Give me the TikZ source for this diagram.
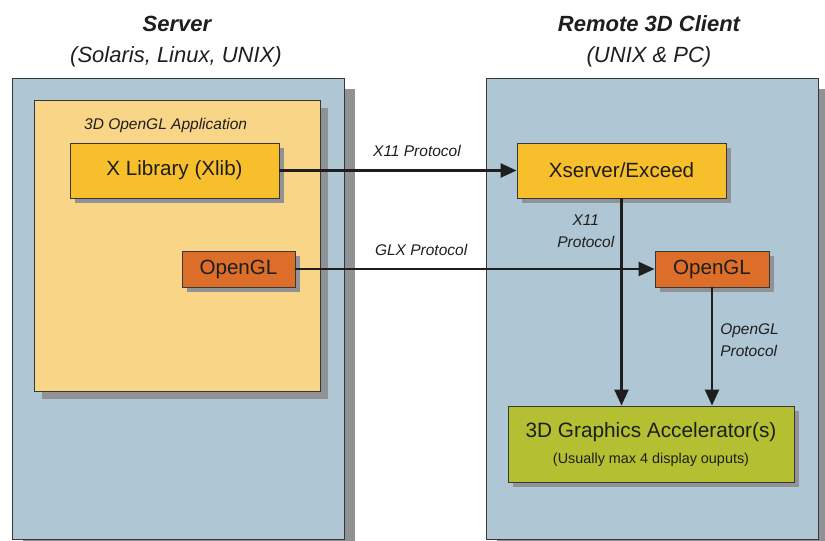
\documentclass[tikz,border=0pt]{standalone}
\usepackage{fontspec}
\setmainfont{Liberation Sans}
\usepackage{xcolor}
\usetikzlibrary{arrows.meta,positioning,shadows}
\definecolor{hostblue}{RGB}{175,199,212}
\definecolor{appfill}{RGB}{249,214,135}
\definecolor{xfill}{RGB}{247,191,43}
\definecolor{glfill}{RGB}{220,110,42}
\definecolor{accfill}{RGB}{180,192,50}
\definecolor{shadowgray}{RGB}{145,146,149}
\definecolor{edgegray}{RGB}{55,55,55}
\definecolor{inkdark}{RGB}{30,30,30}

\begin{document}
\begin{tikzpicture}[x=1pt, y=-1pt,
    every node/.style={text=inkdark, inner sep=0pt},
    host/.style={rectangle, draw=edgegray, line width=0.9pt, fill=hostblue, minimum width=332pt, minimum height=461pt, drop shadow={shadow xshift=11pt, shadow yshift=-11pt, fill=shadowgray, opacity=1}},
    app/.style={rectangle, draw=edgegray, line width=0.9pt, fill=appfill, minimum width=286pt, minimum height=291pt, drop shadow={shadow xshift=8pt, shadow yshift=-8pt, fill=shadowgray, opacity=1}},
    box/.style={rectangle, draw=edgegray, line width=0.9pt, font=\fontsize{20.6}{24}\selectfont, drop shadow={shadow xshift=5pt, shadow yshift=-5pt, fill=shadowgray, opacity=1}},
    title/.style={font=\fontsize{22}{26}\selectfont\bfseries\itshape, anchor=base},
    subtitle/.style={font=\fontsize{22}{26}\selectfont\itshape, anchor=base},
    proto/.style={font=\fontsize{15.5}{22}\selectfont\itshape},
    arrow/.style={-{Triangle[length=16pt,width=14pt]}, line width=2.5pt, draw=inkdark}
]
    \useasboundingbox (0,0) rectangle (825,541);

    % Headings
    \node[title] (srvtitle) at (177,31) {Server};
    \node[subtitle] (srvsub) at (176,62) {(Solaris, Linux, UNIX)};
    \node[title] (clttitle) at (649,31) {Remote 3D Client};
    \node[subtitle] (cltsub) at (649,62) {(UNIX \& PC)};

    % Server side
    \node[host] (server) at (178,308.5) {};
    \node[app] (app) at (177,245.5) {};
    \node[proto, anchor=base west] (applabel) at (84,129) {3D OpenGL Application};
    \node[box, fill=xfill, minimum width=209pt, minimum height=55pt] (xlib) at (174.5,170.5) {X Library (Xlib)};
    \node[box, fill=glfill, minimum width=113pt, minimum height=36pt] (glsrv) at (238.5,269) {OpenGL};

    % Client side
    \node[host] (client) at (652,308.5) {};
    \node[box, fill=xfill, minimum width=209pt, minimum height=55pt] (xserver) at (621.5,170.5) {Xserver/Exceed};
    \node[box, fill=glfill, minimum width=114pt, minimum height=36pt] (glclt) at (712,269) {OpenGL};
    \node[box, fill=accfill, minimum width=286pt, minimum height=76pt, align=center, yshift=0pt] (accel) at (651,444)
        {\fontsize{20.8}{25}\selectfont 3D Graphics Accelerator(s)\\[2pt]\fontsize{14.4}{17}\selectfont (Usually max 4 display ouputs)};

    % Protocol arrows
    \draw[arrow] (xlib.east) -- node[proto, pos=0.58, above=13pt] {X11 Protocol} (xserver.west);
    \draw[arrow] (glsrv.east) -- node[proto, pos=0.35, above=12pt] {GLX Protocol} (glclt.west);
    \draw[arrow] (xserver.south) -- node[proto, pos=0.16, left=6pt, align=center] {X11\\Protocol} (accel.north -| xserver.south);
    \draw[arrow] (glclt.south) -- node[proto, pos=0.45, right=7pt, align=left] {OpenGL\\Protocol} (accel.north -| glclt.south);
\end{tikzpicture}
\end{document}
